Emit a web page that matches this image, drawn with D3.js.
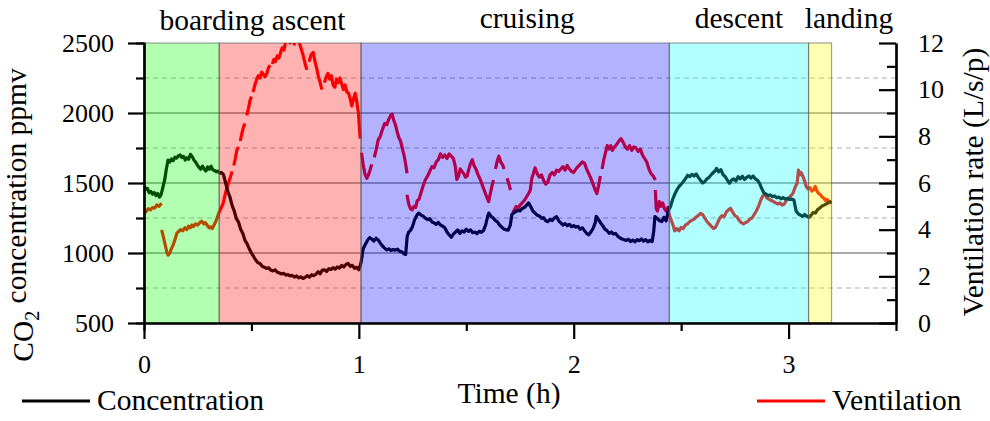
<!DOCTYPE html>
<html>
<head>
<meta charset="utf-8">
<script src="https://cdn.jsdelivr.net/npm/d3@7"></script>
<style>
	body { margin: 0; background: #fff; }
	svg text { font-family: "Liberation Serif", "Times New Roman", serif; fill: #000; }
</style>
</head>
<body>
<div id="chart"></div>
<script>
// phases of the flight (hours)
var phaseNames = ["boarding", "ascent", "cruising", "descent", "landing"];
var phaseStart = [0, 0.35, 1.01, 2.445, 3.093];
var phaseEnd = [0.35, 1.01, 2.445, 3.093, 3.2];
var phaseColors = ["#00ff00", "#ff0000", "#0000ff", "#00ffff", "#ffff00"];
var phaseLabels = ["boarding ascent", "cruising", "descent", "landing"];

// CO2 concentration, ppmv
var concTime = [
	0, 0.008, 0.016, 0.024, 0.032, 0.04, 0.048, 0.056, 0.064, 0.072, 0.08, 0.088, 0.096, 0.104, 0.112, 0.12, 0.128, 0.136, 0.144, 0.152, 0.16, 0.168, 0.176, 0.184, 0.192, 0.2, 0.208, 0.216, 0.224, 0.232, 0.24, 0.248, 0.256, 0.264, 0.272, 0.28, 0.288, 0.296, 0.304, 0.312, 0.32, 0.328, 0.336, 0.344, 0.352, 0.36, 0.37,
	0.38, 0.39, 0.4, 0.41, 0.42, 0.43, 0.44, 0.45, 0.46, 0.47, 0.48, 0.49, 0.5, 0.51, 0.52, 0.53, 0.54, 0.55, 0.56, 0.57, 0.58, 0.59, 0.6, 0.61, 0.62, 0.63, 0.64, 0.65, 0.66, 0.67, 0.68, 0.69, 0.7, 0.71, 0.72, 0.73, 0.74, 0.75, 0.76, 0.77, 0.78, 0.79, 0.8, 0.81, 0.82, 0.83, 0.84, 0.85, 0.86, 0.87, 0.88, 0.89, 0.9, 0.91, 0.92, 0.93, 0.94, 0.95, 0.96, 0.97, 0.98, 0.99, 1.0, 1.01, 1.02,
	1.03, 1.04, 1.05, 1.06, 1.07, 1.08, 1.09, 1.1, 1.11, 1.12, 1.13, 1.14, 1.15, 1.16, 1.17, 1.18, 1.19, 1.2, 1.21, 1.218, 1.225, 1.232, 1.24, 1.25, 1.26, 1.27, 1.278, 1.29, 1.3, 1.31, 1.32, 1.33, 1.34, 1.35, 1.36, 1.37, 1.38, 1.39, 1.4, 1.41, 1.42, 1.43, 1.44, 1.45, 1.46, 1.47, 1.48, 1.49, 1.5, 1.51, 1.52, 1.53, 1.54, 1.55, 1.56, 1.57, 1.58, 1.59, 1.6, 1.605, 1.615, 1.625, 1.635, 1.645, 1.655, 1.665, 1.675, 1.685, 1.695, 1.705, 1.712, 1.72, 1.73, 1.74, 1.75, 1.76, 1.77, 1.78, 1.79, 1.8, 1.81, 1.82, 1.83, 1.84, 1.85, 1.86, 1.87, 1.88, 1.89, 1.9, 1.91, 1.92, 1.93, 1.94, 1.95, 1.96, 1.97, 1.98, 1.99, 2.0, 2.01, 2.02, 2.03, 2.04, 2.05, 2.06, 2.07, 2.08, 2.09, 2.1, 2.105, 2.115, 2.125, 2.135, 2.145, 2.155, 2.165, 2.175, 2.185, 2.195, 2.205, 2.215, 2.225, 2.235, 2.245, 2.255, 2.265, 2.275, 2.285, 2.295, 2.305, 2.315, 2.325, 2.335, 2.345, 2.355, 2.365, 2.372, 2.378, 2.39, 2.4, 2.41, 2.42, 2.43, 2.44,
	2.45, 2.46, 2.47, 2.48, 2.49, 2.5, 2.51, 2.52, 2.53, 2.54, 2.55, 2.56, 2.57, 2.58, 2.59, 2.6, 2.61, 2.62, 2.63, 2.64, 2.65, 2.66, 2.665, 2.675, 2.685, 2.695, 2.705, 2.715, 2.725, 2.735, 2.745, 2.755, 2.765, 2.775, 2.785, 2.795, 2.805, 2.815, 2.825, 2.835, 2.845, 2.855, 2.865, 2.875, 2.885, 2.895, 2.905, 2.915, 2.925, 2.935, 2.945, 2.955, 2.965, 2.975, 2.985, 2.995, 3.005, 3.015, 3.025, 3.035, 3.045, 3.055, 3.065, 3.075, 3.085, 3.095,
	3.105, 3.115, 3.125, 3.135, 3.145, 3.155, 3.165, 3.175, 3.185, 3.2
];
var concValue = [
	1480, 1455, 1462, 1430, 1440, 1420, 1432, 1410, 1425, 1400, 1418, 1470, 1520, 1600, 1664, 1650, 1672, 1660, 1685, 1678, 1695, 1700, 1682, 1690, 1664, 1680, 1670, 1705, 1690, 1665, 1650, 1630, 1612, 1598, 1620, 1600, 1585, 1615, 1598, 1620, 1595, 1590, 1580, 1585, 1570, 1575, 1560,
	1500, 1440, 1400, 1340, 1300, 1245, 1220, 1170, 1140, 1090, 1065, 1030, 1000, 975, 950, 930, 925, 905, 898, 890, 895, 878, 872, 880, 862, 858, 850, 855, 842, 846, 836, 840, 828, 836, 822, 830, 818, 826, 838, 828, 845, 838, 848, 866, 852, 878, 880, 868, 888, 882, 895, 885, 900, 892, 912, 900, 918, 926, 905, 912, 890, 898, 880, 930, 1030,
	1060, 1090, 1110, 1100, 1085, 1105, 1093, 1070, 1050, 1035, 1022, 1030, 1018, 1025, 1020, 1028, 1012, 1008, 995, 990, 1120, 1150, 1160, 1190, 1240, 1270, 1285, 1270, 1262, 1248, 1238, 1245, 1222, 1215, 1205, 1218, 1200, 1192, 1180, 1150, 1130, 1112, 1135, 1150, 1165, 1140, 1158, 1150, 1170, 1155, 1165, 1145, 1150, 1138, 1155, 1148, 1160, 1200, 1265, 1285, 1262, 1250, 1232, 1222, 1200, 1185, 1172, 1165, 1163, 1200, 1275, 1285, 1295, 1305, 1300, 1318, 1325, 1340, 1358, 1330, 1300, 1285, 1270, 1265, 1248, 1252, 1230, 1224, 1240, 1232, 1250, 1260, 1230, 1215, 1200, 1210, 1195, 1205, 1188, 1195, 1185, 1190, 1170, 1180, 1160, 1140, 1130, 1150, 1175, 1215, 1262, 1240, 1215, 1195, 1170, 1160, 1140, 1150, 1135, 1140, 1120, 1108, 1100, 1095, 1090, 1098, 1082, 1092, 1080, 1095, 1088, 1100, 1085, 1095, 1080, 1090, 1082, 1150, 1260, 1245, 1230, 1225, 1255, 1230, 1300,
	1330, 1380, 1420, 1450, 1475, 1490, 1510, 1530, 1555, 1545, 1562, 1550, 1565, 1540, 1520, 1500, 1510, 1530, 1540, 1560, 1575, 1590, 1605, 1580, 1595, 1560, 1545, 1520, 1498, 1520, 1530, 1515, 1545, 1530, 1548, 1525, 1540, 1550, 1535, 1550, 1530, 1520, 1498, 1460, 1430, 1420, 1410, 1415, 1402, 1408, 1395, 1400, 1388, 1395, 1385, 1390, 1382, 1385, 1378, 1300, 1280, 1270, 1262, 1275, 1262, 1255,
	1270, 1290, 1285, 1310, 1320, 1335, 1342, 1350, 1360, 1368
];

// ventilation rate, L/s/p (null = gap in the record)
var ventTime = [
	0, 0.01, 0.02, 0.03, 0.04, 0.05, 0.06, 0.07, 0.082, null,
	0.082, 0.09, 0.1, 0.107, 0.113, 0.12, 0.128, 0.136, 0.145, 0.153, 0.16, 0.17, 0.18, 0.19, 0.199, 0.207, 0.215, 0.223, 0.23, 0.24, 0.25, 0.26, 0.269, 0.278, 0.286, 0.295, 0.303, 0.31, 0.318, 0.326, 0.334, 0.342, 0.35, 0.36, 0.369, 0.38, 0.393, 0.402, 0.41, null,
	0.418, 0.425, 0.432, 0.44, null, 0.448, 0.455, 0.463, 0.47, null, 0.478, 0.486, 0.494, 0.5, null, 0.508, 0.516, 0.525, 0.532, 0.54, 0.548, 0.556, 0.564, 0.572, 0.58, 0.587, null, 0.597, 0.605, 0.612, 0.62, 0.628, 0.636, 0.644, 0.652, 0.66, 0.67, 0.68, 0.69, 0.7, 0.71, 0.72, 0.73, 0.74, 0.75, 0.758, null, 0.768, 0.778, 0.788, 0.796, 0.804, 0.812, 0.82, 0.828, null, 0.84, 0.848, 0.856, 0.864, 0.872, 0.88, 0.888, 0.896, 0.904, 0.912, 0.92, 0.928, 0.936, 0.944, 0.952, 0.96, 0.967, 0.975, 0.983, 0.99, 0.998, 1.006, null,
	1.012, 1.02, 1.028, 1.037, 1.045, 1.052, 1.06, null, 1.072, 1.08, 1.09, 1.1, 1.11, 1.12, 1.13, 1.14, 1.148, 1.155, 1.162, 1.17, 1.178, 1.186, 1.194, 1.202, 1.21, 1.218, 1.224, null,
	1.224, 1.232, 1.24, 1.248, 1.256, 1.264, 1.272, 1.28, 1.29, 1.3, 1.31, 1.32, 1.33, 1.34, 1.35, 1.36, 1.37, 1.38, 1.39, 1.4, 1.41, 1.42, 1.43, 1.44, 1.448, 1.456, 1.464, 1.472, 1.48, 1.488, 1.496, 1.504, 1.512, 1.52, 1.528, 1.536, 1.545, 1.555, 1.565, 1.575, 1.585, 1.595, 1.604, 1.612, 1.62, 1.627, null, 1.636, 1.644, 1.652, 1.66, 1.668, 1.676, null, 1.69, 1.7, 1.706, null,
	1.716, 1.724, 1.732, 1.74, 1.75, 1.76, 1.77, 1.78, 1.79, 1.798, 1.805, 1.812, 1.82, 1.83, 1.84, 1.85, 1.86, 1.87, 1.88, 1.89, 1.9, 1.91, 1.92, 1.93, 1.94, 1.95, 1.96, 1.97, 1.98, 1.99, 2.0, 2.01, 2.02, 2.03, 2.04, 2.05, 2.06, 2.07, 2.08, 2.09, 2.1, 2.108, 2.116, 2.124, null, 2.132, 2.14, 2.148, 2.156, 2.164, 2.172, 2.18, 2.19, 2.2, 2.21, 2.22, 2.23, 2.24, 2.25, 2.26, 2.27, 2.28, 2.29, 2.3, 2.31, 2.32, 2.33, 2.34, 2.35, 2.36, 2.37, 2.38, null,
	2.38, 2.384, 2.39, 2.398, 2.406, 2.414, 2.422, 2.43, 2.438, 2.446, 2.454, 2.462, 2.47, 2.48, 2.49, 2.5, 2.51, 2.52, 2.53, 2.54, 2.55, 2.56, 2.57, 2.58, 2.59, 2.6, 2.61, 2.62, 2.63, 2.64, 2.65, 2.66, 2.67, 2.68, 2.69, 2.7, 2.71, 2.72, 2.73, 2.74, 2.75, 2.76, 2.77, 2.78, 2.79, 2.8, 2.81, 2.82, 2.83, 2.84, 2.85, 2.86, 2.87, 2.88, 2.89, 2.9, 2.91, 2.92, 2.93, 2.94, 2.95, 2.96, 2.97, 2.98, 2.99, 3.0, 3.01, 3.02, 3.03, 3.04, 3.046, 3.052, 3.058, 3.066, 3.074, 3.082, 3.09,
	3.1, 3.108, 3.116, 3.124, 3.132, 3.14, 3.148, 3.156, 3.164, 3.172, 3.18, 3.19, 3.2
];
var ventValue = [
	4.7, 4.78, 4.9, 4.85, 4.95, 4.92, 5.06, 5.0, 5.13, null,
	3.99, 3.7, 3.3, 3.0, 2.91, 3.0, 3.2, 3.35, 3.6, 3.85, 3.91, 4.0, 3.95, 4.08, 4.0, 4.15, 4.08, 4.2, 4.13, 4.25, 4.2, 4.3, 4.36, 4.25, 4.3, 4.18, 4.08, 4.12, 4.05, 4.2, 4.35, 4.55, 4.75, 4.95, 5.15, 5.6, 6.0, 6.25, 6.5, null,
	6.75, 7.05, 7.4, 7.55, null, 7.8, 8.1, 8.4, 8.55, null, 8.9, 9.2, 9.55, 9.7, null, 9.9, 10.2, 10.45, 10.6, 10.5, 10.75, 10.65, 10.55, 10.7, 10.95, 11.05, null, 11.1, 11.3, 11.2, 11.45, 11.35, 11.6, 11.8, 11.7, 12.1, 12.3, 12.0, 12.3, 11.95, 12.3, 12.1, 11.8, 11.5, 11.1, 10.85, null, 11.2, 11.5, 11.6, 11.2, 10.9, 10.55, 10.3, 10.0, null, 10.3, 10.55, 10.7, 10.45, 10.6, 10.2, 10.1, 10.45, 10.3, 10.5, 10.25, 10.0, 10.2, 9.9, 9.85, 9.6, 9.3, 9.6, 9.85, 9.5, 9.0, 7.9, null,
	7.3, 6.8, 6.4, 6.2, 6.35, 6.55, 6.8, null, 7.1, 7.4, 7.85, 8.0, 8.3, 8.55, 8.5, 8.75, 8.9, 8.95, 8.7, 8.5, 8.2, 7.95, 7.8, 7.5, 7.2, 6.8, 6.42, null,
	5.5, 5.1, 4.9, 4.85, 5.0, 4.95, 5.25, 5.3, 5.6, 5.9, 6.15, 6.3, 6.5, 6.7, 6.65, 6.9, 7.0, 7.25, 7.1, 7.2, 7.05, 7.25, 7.15, 7.05, 6.75, 6.15, 6.3, 6.6, 6.5, 6.4, 6.25, 6.3, 6.6, 6.85, 7.0, 6.75, 6.6, 6.35, 6.15, 5.9, 5.65, 5.4, 5.2, 5.55, 5.9, 6.13, null, 6.6, 6.95, 7.15, 6.9, 6.8, 6.6, null, 6.2, 5.9, 5.7, null,
	4.75, 4.85, 5.0, 4.9, 5.05, 5.15, 5.25, 5.4, 5.55, 5.7, 6.2, 6.4, 6.65, 6.4, 6.25, 6.35, 6.1, 5.95, 6.05, 6.35, 6.45, 6.35, 6.55, 6.5, 6.6, 6.7, 6.55, 6.75, 6.6, 6.5, 6.45, 6.6, 6.7, 6.8, 6.9, 6.85, 6.6, 6.4, 6.2, 5.95, 5.7, 5.55, 5.9, 6.3, null, 6.6, 7.0, 7.3, 7.6, 7.45, 7.6, 7.4, 7.55, 7.65, 7.8, 7.9, 7.75, 7.55, 7.45, 7.6, 7.4, 7.55, 7.5, 7.35, 7.45, 7.2, 7.05, 6.9, 6.6, 6.4, 6.3, 6.13, null,
	5.7, 4.9, 4.8, 5.2, 5.0, 5.15, 4.9, 4.8, 4.95, 4.6, 4.4, 4.2, 3.95, 4.05, 3.95, 4.1, 4.05, 4.2, 4.25, 4.35, 4.4, 4.45, 4.55, 4.6, 4.7, 4.65, 4.5, 4.35, 4.25, 4.15, 4.05, 4.1, 4.3, 4.5, 4.6, 4.55, 4.75, 4.85, 4.92, 4.75, 4.6, 4.55, 4.4, 4.3, 4.25, 4.3, 4.35, 4.45, 4.5, 4.65, 4.8, 5.0, 5.25, 5.45, 5.5, 5.35, 5.3, 5.25, 5.2, 5.15, 5.1, 5.15, 5.05, 5.1, 5.25, 5.35, 5.45, 5.55, 5.8, 6.0, 6.55, 6.35, 6.45, 6.3, 6.1, 5.85, 5.75,
	5.8, 5.65, 5.7, 5.85, 5.65, 5.55, 5.5, 5.4, 5.35, 5.25, 5.3, 5.15, 5.2
];

var timeTicks = [0, 1, 2, 3];
var timeMinor = [0.5, 1.5, 2.5];
var concTicks = [500, 1000, 1500, 2000, 2500];
var concMinor = [750, 1250, 1750, 2250];
var ventTicks = [0, 2, 4, 6, 8, 10, 12];
var ventMinor = [1, 3, 5, 7, 9, 11];

function Chart (targetDomElement) {
	var width = 990;
	var height = 421;
	var left = 144, right = 896, top = 43, bottom = 323;
	var titleSize = "29.5px";

	var svg = d3.select(targetDomElement)
		.append("svg")
		.attr("width", width)
		.attr("height", height);

	var x = d3.scaleLinear().domain([0, 3.5]).range([left, right]);
	var yConc = d3.scaleLinear().domain([500, 2500]).range([bottom, top]);
	var yVent = d3.scaleLinear().domain([0, 12]).range([bottom, top]);

	svg.append("clipPath").attr("id", "plotClip")
		.append("rect")
		.attr("x", left).attr("y", top)
		.attr("width", right - left).attr("height", bottom - top);

	// grid
	svg.append("g").selectAll("line")
		.data(concTicks.slice(1, -1))
		.enter().append("line")
		.attr("x1", left).attr("x2", right)
		.attr("y1", function (d) { return yConc(d); })
		.attr("y2", function (d) { return yConc(d); })
		.attr("stroke", "#8c8c8c")
		.attr("stroke-width", 1.3);

	svg.append("g").selectAll("line")
		.data(concMinor)
		.enter().append("line")
		.attr("x1", left).attr("x2", right)
		.attr("y1", function (d) { return yConc(d); })
		.attr("y2", function (d) { return yConc(d); })
		.attr("stroke", "#c8c8c8")
		.attr("stroke-width", 1.3)
		.attr("stroke-dasharray", "5,4");

	// series
	var conc = concTime.map(function (t, i) { return { t: t, v: concValue[i] }; });
	var vent = ventTime.map(function (t, i) { return { t: t, v: ventValue[i] }; });

	var plot = svg.append("g").attr("clip-path", "url(#plotClip)");

	plot.append("path")
		.datum(vent)
		.attr("fill", "none")
		.attr("stroke", "#ff0000")
		.attr("stroke-width", 3.2)
		.attr("stroke-linejoin", "round")
		.attr("d", d3.line()
			.defined(function (d) { return d.v !== null; })
			.x(function (d) { return x(d.t); })
			.y(function (d) { return yVent(d.v); }));

	plot.append("path")
		.datum(conc)
		.attr("fill", "none")
		.attr("stroke", "#000")
		.attr("stroke-width", 3.2)
		.attr("stroke-linejoin", "round")
		.attr("d", d3.line()
			.x(function (d) { return x(d.t); })
			.y(function (d) { return yConc(d.v); }));

	// phase shading on top of the lines
	svg.append("g").selectAll("rect")
		.data(phaseNames)
		.enter().append("rect")
		.attr("x", function (d, i) { return x(phaseStart[i]); })
		.attr("y", top)
		.attr("width", function (d, i) { return x(phaseEnd[i]) - x(phaseStart[i]); })
		.attr("height", bottom - top)
		.attr("fill", function (d, i) { return phaseColors[i]; })
		.attr("fill-opacity", 0.3)
		.attr("stroke", "#555")
		.attr("stroke-opacity", 0.55)
		.attr("stroke-width", 1.2);

	// phase labels
	var labelX = [
		(x(phaseStart[0]) + x(phaseEnd[1])) / 2,
		(x(phaseStart[2]) + x(phaseEnd[2])) / 2 + 12,
		(x(phaseStart[3]) + x(phaseEnd[3])) / 2,
		(x(phaseStart[4]) + x(phaseEnd[4])) / 2 + 29
	];
	svg.append("g").selectAll("text")
		.data(phaseLabels)
		.enter().append("text")
		.attr("x", function (d, i) { return labelX[i]; })
		.attr("y", function (d, i) { return i === 0 ? 30 : 28; })
		.attr("text-anchor", "middle")
		.style("font-size", titleSize)
		.text(function (d) { return d; });

	// axes
	function styleAxis (g) {
		g.select(".domain").attr("stroke", "#000").attr("stroke-width", 2.2);
		g.selectAll(".tick line").attr("stroke", "#000").attr("stroke-width", 2.2);
		g.selectAll(".tick text").style("font-size", "26px").attr("fill", "#000");
	}

	svg.append("g")
		.attr("transform", "translate(" + left + ",0)")
		.call(d3.axisLeft(yConc).tickValues(concMinor).tickSize(8).tickFormat(""))
		.call(styleAxis);
	svg.append("g")
		.attr("transform", "translate(" + left + ",0)")
		.call(d3.axisLeft(yConc).tickValues(concTicks).tickSizeInner(16).tickSizeOuter(0).tickPadding(14).tickFormat(d3.format("d")))
		.call(styleAxis);

	svg.append("g")
		.attr("transform", "translate(" + right + ",0)")
		.call(d3.axisRight(yVent).tickValues(ventMinor).tickSizeInner(-9).tickSizeOuter(0).tickFormat(""))
		.call(styleAxis);
	svg.append("g")
		.attr("transform", "translate(" + right + ",0)")
		.call(d3.axisRight(yVent).tickValues(ventTicks).tickSizeInner(-17).tickSizeOuter(0).tickPadding(22).tickFormat(d3.format("d")))
		.call(styleAxis);

	svg.append("g")
		.attr("transform", "translate(0," + bottom + ")")
		.call(d3.axisBottom(x).tickValues(timeMinor).tickSize(8).tickFormat(""))
		.call(styleAxis);
	svg.append("g")
		.attr("transform", "translate(0," + bottom + ")")
		.call(d3.axisBottom(x).tickValues(timeTicks).tickSizeInner(16).tickSizeOuter(0).tickPadding(16).tickFormat(d3.format("d")))
		.call(styleAxis);

	// axis titles
	var yTitle = svg.append("text")
		.attr("transform", "translate(33,215) rotate(-90)")
		.attr("text-anchor", "middle")
		.style("font-size", titleSize);
	yTitle.append("tspan").text("CO");
	yTitle.append("tspan").attr("dy", "0.3em").style("font-size", "20px").text("2");
	yTitle.append("tspan").attr("dy", "-0.45em").text(" concentration ppmv");

	svg.append("text")
		.attr("transform", "translate(973,182) rotate(-90)")
		.attr("text-anchor", "middle")
		.attr("dy", "0.35em")
		.style("font-size", titleSize)
		.text("Ventilation rate (L/s/p)");

	svg.append("text")
		.attr("x", 509)
		.attr("y", 403)
		.attr("text-anchor", "middle")
		.style("font-size", titleSize)
		.text("Time (h)");

	// legend
	var legend = [
		{ name: "Concentration", color: "#000", x0: 22 },
		{ name: "Ventilation", color: "#ff0000", x0: 757 }
	];
	var lg = svg.append("g").selectAll("g")
		.data(legend)
		.enter().append("g");
	lg.append("line")
		.attr("x1", function (d) { return d.x0; })
		.attr("x2", function (d) { return d.x0 + 68; })
		.attr("y1", 401).attr("y2", 401)
		.attr("stroke", function (d) { return d.color; })
		.attr("stroke-width", 3.2);
	lg.append("text")
		.attr("x", function (d) { return d.x0 + 75; })
		.attr("y", 410)
		.style("font-size", titleSize)
		.text(function (d) { return d.name; });

	return svg;
}

Chart(document.getElementById("chart"));
</script>
</body>
</html>
